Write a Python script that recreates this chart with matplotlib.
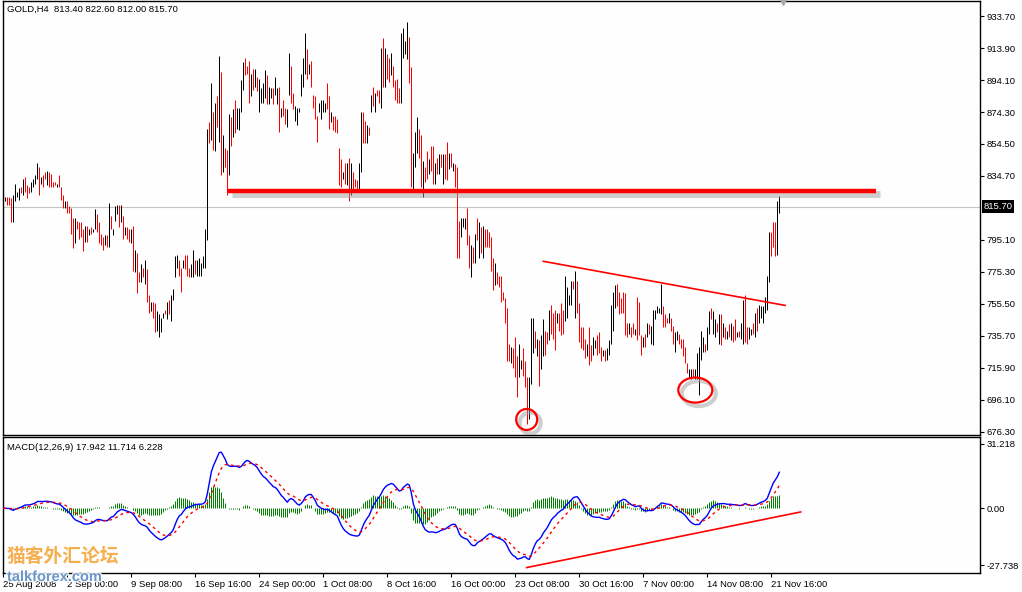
import numpy as np
import pandas as pd
import matplotlib
matplotlib.use("Agg")
import matplotlib.pyplot as plt
import matplotlib.patheffects as pe
from matplotlib.patches import Ellipse
from matplotlib.transforms import blended_transform_factory

plt.rcParams['font.family'] = ['Liberation Sans', 'DejaVu Sans']

# GOLD H4 bars (25 Aug 2008 .. 21 Nov 2008)
highs = [
    825, 822, 822, 822, 821, 823, 830, 825, 827, 828,
    833, 834, 829, 828, 831, 833, 835, 843, 840, 834,
    835, 837, 838, 837, 836, 831, 831, 830, 835, 828,
    823, 819, 819, 816, 815, 809, 809, 807, 806, 806,
    802, 804, 804, 802, 803, 802, 814, 811, 806, 799,
    797, 798, 798, 818, 810, 802, 816, 817, 817, 817,
    810, 803, 803, 802, 802, 804, 789, 787, 775, 780,
    778, 783, 777, 761, 757, 757, 756, 751, 749, 747,
    750, 752, 757, 758, 761, 765, 785, 786, 783, 778,
    783, 786, 786, 778, 780, 789, 783, 783, 784, 781,
    785, 802, 864, 868, 892, 874, 880, 884, 909, 899,
    860, 852, 851, 873, 871, 876, 882, 877, 877, 894,
    905, 908, 903, 906, 898, 901, 901, 896, 895, 889,
    892, 900, 897, 890, 889, 889, 896, 889, 890, 877,
    882, 877, 876, 911, 903, 886, 878, 877, 877, 898,
    908, 923, 913, 904, 906, 885, 884, 872, 880, 882,
    882, 880, 892, 884, 874, 872, 872, 870, 852, 845,
    837, 843, 843, 846, 843, 837, 833, 832, 843, 874,
    874, 869, 866, 865, 885, 890, 886, 888, 888, 914,
    920, 914, 910, 908, 911, 903, 894, 895, 889, 923,
    926, 918, 930, 921, 902, 849, 862, 871, 864, 860,
    844, 840, 850, 845, 853, 853, 843, 846, 848, 848,
    848, 848, 856, 849, 849, 843, 842, 840, 807, 809,
    809, 809, 815, 798, 792, 791, 799, 809, 806, 803,
    804, 802, 802, 800, 797, 784, 781, 775, 773, 773,
    763, 759, 753, 731, 729, 728, 735, 723, 731, 721,
    728, 720, 710, 710, 747, 747, 739, 734, 733, 736,
    746, 739, 738, 752, 755, 750, 752, 750, 750, 756,
    752, 773, 766, 761, 770, 770, 776, 770, 756, 741,
    741, 734, 731, 741, 730, 735, 733, 736, 738, 729,
    727, 727, 728, 733, 755, 763, 767, 768, 763, 759,
    763, 762, 744, 744, 741, 744, 740, 760, 757, 736,
    735, 737, 744, 743, 742, 752, 752, 754, 753, 768,
    754, 749, 747, 750, 747, 742, 738, 739, 737, 734,
    734, 729, 719, 715, 715, 715, 715, 725, 729, 739,
    735, 731, 741, 751, 753, 751, 746, 744, 749, 749,
    744, 741, 739, 743, 744, 742, 746, 738, 739, 744,
    758, 761, 741, 741, 740, 744, 750, 753, 755, 754,
    754, 760, 773, 800, 800, 806, 806, 819, 822.6,
]
lows = [
    816, 819, 817, 817, 806, 806, 819, 822, 820, 824,
    823, 825, 821, 824, 825, 828, 830, 833, 823, 830,
    828, 833, 829, 828, 828, 828, 829, 828, 828, 820,
    815, 815, 812, 812, 799, 790, 793, 802, 796, 797,
    788, 794, 794, 798, 799, 800, 802, 800, 793, 792,
    789, 792, 791, 791, 802, 798, 807, 811, 803, 806,
    796, 798, 796, 794, 793, 776, 775, 762, 769, 769,
    772, 768, 757, 750, 751, 747, 738, 739, 735, 738,
    747, 749, 746, 749, 745, 758, 772, 778, 773, 763,
    778, 777, 773, 772, 772, 772, 774, 773, 773, 773,
    778, 778, 795, 855, 857, 851, 850, 865, 856, 835,
    837, 840, 823, 835, 853, 859, 861, 864, 863, 874,
    888, 897, 898, 880, 884, 888, 890, 887, 874, 880,
    880, 883, 879, 879, 883, 879, 885, 879, 862, 871,
    872, 867, 865, 885, 880, 876, 869, 866, 874, 884,
    890, 898, 895, 898, 890, 877, 870, 856, 874, 870,
    874, 874, 876, 864, 868, 863, 862, 861, 829, 828,
    833, 830, 829, 819, 823, 826, 828, 825, 826, 837,
    855, 855, 855, 860, 874, 878, 874, 884, 880, 877,
    890, 890, 895, 893, 897, 890, 882, 880, 880, 880,
    908, 910, 907, 892, 828, 826, 840, 849, 846, 828,
    822, 831, 833, 836, 838, 830, 830, 836, 836, 840,
    830, 833, 832, 839, 840, 838, 828, 784, 784, 797,
    803, 802, 792, 778, 772, 781, 781, 795, 784, 787,
    784, 791, 791, 791, 776, 764, 767, 768, 766, 757,
    758, 744, 720, 720, 719, 716, 710, 698, 710, 715,
    711, 704, 681, 684, 706, 725, 728, 723, 705, 715,
    723, 724, 731, 733, 737, 734, 727, 744, 739, 736,
    737, 745, 747, 755, 755, 765, 747, 750, 732, 728,
    727, 722, 723, 718, 720, 724, 728, 724, 725, 720,
    723, 720, 721, 724, 731, 739, 753, 754, 749, 750,
    750, 736, 735, 737, 735, 737, 736, 733, 736, 724,
    729, 729, 735, 737, 731, 730, 746, 750, 750, 749,
    741, 741, 744, 744, 739, 731, 726, 733, 731, 728,
    723, 719, 713, 710, 709, 710, 709, 709, 699, 721,
    726, 726, 727, 737, 746, 737, 735, 738, 731, 730,
    735, 734, 734, 735, 733, 732, 733, 735, 735, 734,
    731, 732, 731, 734, 736, 737, 735, 739, 744, 747,
    744, 750, 752, 769, 785, 791, 785, 786, 812,
]
# k = up bar (black), r = down bar (red)
directions = (
    "rkrrrkkkkr" "krrrkkkkrk" "rrkrrrrkrr" "rkrrrrkrrr" "rkrkrkkrrr"
    "rkrkrkkkrk" "rkrrkrkrrk" "rkrrkrrkkk" "krkrkkkkrr" "krrrkkrkkk"
    "kkkrkrkrkr" "krrkrkrkkk" "krrrkrkrkk" "kkrkkrkkrk" "rrkkrrkkkk"
    "kkrkrrrrkk" "kkrrkrrrrr" "krkrkrrrkk" "rrkrkrkrrk" "rkrrkrrrrk"
    "kkkrrkkkrr" "krrkrrkrkr" "krrkrkrrrk" "kkrrkrkrkr" "krrrrrkrrr"
    "rrrrkrrrkk" "rrrkkkrkrk" "krrkrrrkrr" "rkkkkrkrrr" "rrkrrkkrrr"
    "krkkkkkrrr" "rrrkrrkrrr" "krkrkkkkkk" "rrrkrrkkrr" "rrrkkrkkkk"
    "krkkrkkrkr" "krkrkrrkrk" "krrkkrkrkk" "kkkkrrrkk"
)

tick_labels = ["25 Aug 2008", "2 Sep 00:00", "9 Sep 08:00", "16 Sep 16:00",
               "24 Sep 00:00", "1 Oct 08:00", "8 Oct 16:00", "16 Oct 00:00",
               "23 Oct 08:00", "30 Oct 16:00", "7 Nov 00:00", "14 Nov 08:00",
               "21 Nov 16:00"]
price_ticks = [933.70, 913.90, 894.10, 874.30, 854.50, 834.70, 795.10,
               775.30, 755.50, 735.70, 715.90, 696.10, 676.30]
last_price = 815.70
macd_ticks = [31.218, 0.0, -27.738]
macd_tick_labels = ["31.218", "0.00", "-27.738"]

# hand-drawn objects on the chart (bar index, price / macd value)
resistance_x, resistance_y = [112.4, 436.4], [825.4, 825.4]
neckline_x, neckline_y = [270.0, 390.9], [781.9, 754.6]
macd_trend_x, macd_trend_y = [261.7, 398.7], [-28.8, -1.8]
circles = [(261.7, 684.0, 10.5, 13.0), (346.0, 702.2, 17.0, 15.5)]

n = len(highs)
x = np.arange(n)
hi = np.array(highs, dtype=float)
lo = np.array(lows, dtype=float)
bar_colors = ['black' if d == 'k' else '#ff0000' for d in directions]

# MACD(12,26,9) on median price
med = pd.Series((hi + lo) / 2)
macd = med.ewm(span=12, adjust=False).mean() - med.ewm(span=26, adjust=False).mean()
signal = macd.ewm(span=9, adjust=False).mean()
hist = macd - signal

W, H = 1022, 592
fig = plt.figure(figsize=(W / 100, H / 100), dpi=100)
fig.patch.set_facecolor('white')
bg = '#fdfefd'
ax = fig.add_axes([3 / W, 1 - 434.5 / H, 977 / W, 433.5 / H])
ax2 = fig.add_axes([3 / W, 1 - 572.7 / H, 977 / W, 135.7 / H], sharex=ax)
for a in (ax, ax2):
    a.set_facecolor(bg)
    for s in a.spines.values():
        s.set_linewidth(1.0)
        s.set_color('black')

xlim = (-0.15, 488.35)
fs = 6.8

# price bars, 1 px wide and snapped to the pixel grid
ax.axhline(last_price, color='#c4c4c4', lw=0.8, zorder=1)
bars = ax.vlines(x, lo, hi, colors=bar_colors, lw=0.72, zorder=2)
bars.set_snap(True)
ax.set_xlim(*xlim)
ax.set_ylim(674.7, 943.0)
ax.yaxis.tick_right()
ax.set_yticks(price_ticks)
ax.set_yticklabels([f"{v:.2f}" for v in price_ticks])
ax.tick_params(axis='y', length=3, width=0.8, pad=1.5, labelsize=fs)
ax.tick_params(axis='x', length=0, labelbottom=False)

tr = blended_transform_factory(ax.transAxes, ax.transData)
ax.text(1.0035, last_price, f"{last_price:.2f}", transform=tr, color='white',
        fontsize=fs, va='center', ha='left',
        bbox=dict(facecolor='black', edgecolor='none', pad=1.2))
ax.text(0.004, 0.9815, "GOLD,H4  813.40 822.60 812.00 815.70",
        transform=ax.transAxes, fontsize=fs, va='center', ha='left')
ax.plot([389.85], [1.0], marker='v', ms=6, color='#a8a8a8',
        transform=blended_transform_factory(ax.transData, ax.transAxes),
        clip_on=False, zorder=5)

shadow = [pe.SimpleLineShadow(offset=(2.5, -2.5), shadow_color='#a0a0a0',
                              alpha=0.5, linewidth=5), pe.Normal()]
ax.plot(resistance_x, resistance_y, color='#ff0000', lw=3.2,
        solid_capstyle='butt', path_effects=shadow, zorder=4)
ax.plot(neckline_x, neckline_y, color='#ff0000', lw=1.2, zorder=4)
for cx, cy, w, h in circles:
    e = Ellipse((cx, cy), w, h, facecolor='none', edgecolor='#ff0000', lw=1.6,
                zorder=4,
                path_effects=[pe.SimpleLineShadow(offset=(2.5, -2.5),
                                                  shadow_color='#a0a0a0',
                                                  alpha=0.5, linewidth=3),
                              pe.Normal()])
    ax.add_patch(e)

# MACD panel
hbars = ax2.vlines(x, 0, hist, colors='#008000', lw=0.72, zorder=2)
hbars.set_snap(True)
ax2.plot(x, macd, color='#0000ff', lw=1.0, zorder=3)
ax2.plot(x, signal, color='#ff0000', lw=1.0, linestyle=(0, (2, 2.5)), zorder=3)
ax2.plot(macd_trend_x, macd_trend_y, color='#ff0000', lw=1.2, zorder=4)
ax2.set_ylim(-31.3, 34.6)
ax2.yaxis.tick_right()
ax2.set_yticks(macd_ticks)
ax2.set_yticklabels(macd_tick_labels)
ax2.tick_params(axis='y', length=3, width=0.8, pad=1.5, labelsize=fs)
ax2.set_xticks(np.arange(0, n, 32))
ax2.set_xticklabels(tick_labels, ha='left')
ax2.tick_params(axis='x', length=3, width=0.8, pad=2, labelsize=fs)
ax2.text(0.004, 0.926, "MACD(12,26,9) 17.942 11.714 6.228",
         transform=ax2.transAxes, fontsize=fs, va='center', ha='left')

# watermark (sits over the first date labels, as in the screenshot)
fig.text(7 / W, 1 - 557 / H, "猫客外汇论坛", fontsize=13.5, color='#f5a030',
         alpha=0.85, weight='bold', va='center', ha='left',
         family=['Noto Sans CJK SC', 'DejaVu Sans'])
fig.text(7 / W, 1 - 577 / H, "talkforex.com", fontsize=10.5, color='#5b8cc4',
         weight='bold', va='center', ha='left', alpha=0.9,
         path_effects=[pe.withStroke(linewidth=2, foreground='white')])

fig.savefig("out.png", dpi=100, facecolor='white')
